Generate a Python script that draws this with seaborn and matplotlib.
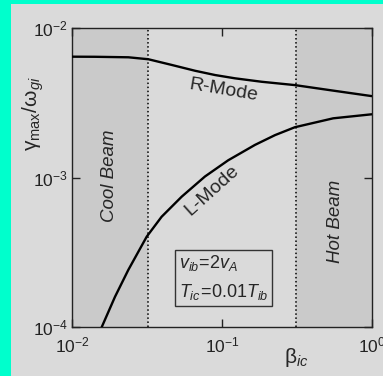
import numpy as np
import matplotlib
matplotlib.use("Agg")
import matplotlib.pyplot as plt
from matplotlib.patches import Rectangle
from matplotlib.ticker import LogLocator, NullLocator
import seaborn as sns

# values
beta_r = [0.01, 0.01418, 0.0237, 0.0322, 0.0461, 0.0661, 0.0898, 0.122, 0.184, 0.307, 0.553, 1.0]
gamma_r = [6.46e-3, 6.45e-3, 6.40e-3, 6.21e-3, 5.69e-3, 5.20e-3, 4.87e-3, 4.63e-3, 4.39e-3, 4.17e-3, 3.83e-3, 3.52e-3]

beta_l = [0.0157, 0.01928, 0.02366, 0.0314, 0.0395, 0.0538, 0.0769, 0.110, 0.166, 0.226, 0.307, 0.553, 1.0]
gamma_l = [1.0e-4, 1.60e-4, 2.42e-4, 4.04e-4, 5.49e-4, 7.48e-4, 1.02e-3, 1.31e-3, 1.66e-3, 1.93e-3, 2.18e-3, 2.50e-3, 2.66e-3]

cool_edge = 0.0322
hot_edge = 0.31
xlim = [1e-2, 1e0]
ylim = [1e-4, 1e-2]

sns.set_style("ticks")
plt.rcParams['font.family'] = ['Liberation Sans', 'DejaVu Sans']
plt.rcParams['mathtext.fontset'] = 'custom'
plt.rcParams['mathtext.rm'] = 'Liberation Sans'
plt.rcParams['mathtext.it'] = 'Liberation Sans:italic'
plt.rcParams['mathtext.bf'] = 'Liberation Sans:bold'

bg = '#dadada'
fig = plt.figure(figsize=(3.83, 3.76), dpi=100, facecolor='#00ffcc')
fig.patches.append(Rectangle((11 / 383, 0), 1, 372 / 376, transform=fig.transFigure,
                             facecolor=bg, edgecolor='none', zorder=-1))
ax = fig.add_axes([0.1888, 0.1295, 0.7817, 0.7952])
ax.set_zorder(2)
ax.set_facecolor(bg)

ax.set_xscale('log')
ax.set_yscale('log')

# beam regions
ax.axvspan(xlim[0], cool_edge, color='#cacaca', lw=0, zorder=0)
ax.axvspan(hot_edge, xlim[1], color='#cacaca', lw=0, zorder=0)
for xe in [cool_edge, hot_edge]:
    ax.axvline(xe, color='k', ls=':', lw=1.1, zorder=1)

sns.lineplot(x=beta_r, y=gamma_r, ax=ax, color='k', lw=1.7, zorder=3)
sns.lineplot(x=beta_l, y=gamma_l, ax=ax, color='k', lw=1.7, zorder=3)
for ln in ax.lines:
    ln.set_solid_joinstyle('round')

ax.set(xlim=xlim, ylim=ylim)
ax.xaxis.set_major_locator(LogLocator(base=10, numticks=5))
ax.yaxis.set_major_locator(LogLocator(base=10, numticks=5))
ax.xaxis.set_minor_locator(NullLocator())
ax.yaxis.set_minor_locator(NullLocator())
ax.tick_params(which='major', direction='in', length=6, width=1, top=True, right=True,
               labelsize=12.5, colors='#222222')
ax.tick_params(axis='x', pad=6)
ax.tick_params(axis='y', pad=3)
for s in ax.spines.values():
    s.set_color('#222222')
    s.set_linewidth(1)

ax.set_ylabel(r'γ$_{\rm max}$/ω$_{gi}$', fontsize=15)
ax.yaxis.set_label_coords(-0.088, 0.715)
ax.set_xlabel(r'β$_{ic}$', fontsize=15, va='top')
ax.xaxis.set_label_coords(0.747, -0.062)

ax.text(0.102, 3.86e-3, 'R-Mode', rotation=-9.5, rotation_mode='anchor',
        ha='center', va='center', fontsize=14)
ax.text(0.0853, 8.28e-4, 'L-Mode', rotation=42, rotation_mode='anchor',
        ha='center', va='center', fontsize=14)
ax.text(0.01767, 1.03e-3, 'Cool Beam', rotation=90, ha='center', va='center',
        fontsize=13.5, style='italic')
ax.text(0.569, 5.08e-4, 'Hot Beam', rotation=90, ha='center', va='center',
        fontsize=13.5, style='italic')

ax.text(0.355, 0.165, '$v_{ib}\\!=\\!\\mathit{2}v_A$\n$T_{ic}\\!=\\!\\mathit{0.01}T_{ib}$',
        transform=ax.transAxes, ha='left', va='center', fontsize=13, linespacing=1.6,
        bbox=dict(boxstyle='square,pad=0.2', fc='none', ec='#333333', lw=1))

fig.savefig('out.png', dpi=100, facecolor=fig.get_facecolor())
